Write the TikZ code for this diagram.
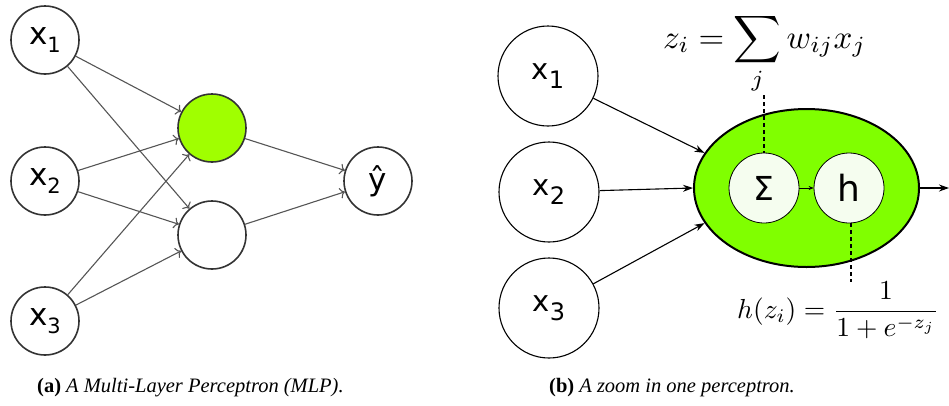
\documentclass[tikz,border=0pt]{standalone}
\usepackage{fontspec}
\usepackage{graphicx}
\usetikzlibrary{arrows.meta,shapes.geometric}
\newfontfamily\dv{DejaVu Sans}
\newfontfamily\capfont{Liberation Serif}
\definecolor{lgreen}{HTML}{A0FF00}
\definecolor{bgreen}{HTML}{80FF00}
\definecolor{pale}{HTML}{F5FDEF}
\definecolor{edgegray}{HTML}{555555}
\definecolor{ringgray}{HTML}{333333}
\newcommand\xlab[4]{{\fontsize{#1}{#1}\selectfont x\raisebox{-#3pt}{\fontsize{#2}{#2}\selectfont #4}}}
\begin{document}
\begin{tikzpicture}[x=1pt,y=-1pt,
  neuron/.style={circle,draw=ringgray,line width=1.6pt,fill=white,minimum size=68pt,inner sep=0pt,font=\dv},
  mlpedge/.style={draw=edgegray,line width=1.1pt,-{To[length=5pt,width=11pt]}},
  inputnode/.style={circle,draw=black,line width=1.1pt,fill=white,minimum size=100pt,inner sep=0pt,font=\dv},
  percep/.style={ellipse,draw=black,line width=2pt,fill=bgreen,minimum width=225pt,minimum height=158pt,inner sep=0pt},
  innernode/.style={circle,draw=black,line width=0.8pt,fill=pale,minimum size=70pt,inner sep=0pt,font=\dv},
  bedge/.style={draw=black,line width=1.1pt,-{Stealth[length=10pt,width=7pt]}},
  guide/.style={draw=black,line width=1.3pt,dash pattern=on 4pt off 3pt},
  eqnode/.style={inner sep=0pt,anchor=base west},
  captext/.style={inner sep=0pt,anchor=base west,font=\capfont\fontsize{20.5}{20.5}\selectfont}]
\useasboundingbox (0,0) rectangle (949,405);
% ---------- (a) ----------
\node[neuron] (a1) at (45,40) {\xlab{31}{21}{8}{1}};
\node[neuron] (a2) at (45,181) {\xlab{31}{21}{8}{2}};
\node[neuron] (a3) at (45,321) {\xlab{31}{21}{8}{3}};
\node[neuron,fill=lgreen] (hg) at (212,128) {};
\node[neuron] (hw) at (212,235) {};
\node[neuron] (yh) at (378,181) {\fontsize{31}{31}\selectfont ŷ};
\foreach \s in {a1,a2,a3}{
  \draw[mlpedge] (\s) -- (hg);
  \draw[mlpedge] (\s) -- (hw);
}
\draw[mlpedge] (hg) -- (yh);
\draw[mlpedge] (hw) -- (yh);
% ---------- (b) ----------
\node[inputnode] (b1) at (548,76) {\xlab{29}{24}{9}{1}};
\node[inputnode] (b2) at (549,192) {\xlab{29}{24}{9}{2}};
\node[inputnode] (b3) at (549,308) {\xlab{29}{24}{9}{3}};
\node[percep] (P) at (806.5,188) {};
\node[innernode] (S) at (764,188) {\fontsize{33}{33}\selectfont Σ};
\node[innernode] (H) at (849,188) {\fontsize{36}{36}\selectfont h};
\draw[bedge] (b1) -- (P.161);
\draw[bedge] (b2) -- (P.west);
\draw[bedge] (b3) -- (P.199);
\draw[draw=black,line width=0.6pt,-{Stealth[length=5pt,width=4pt]}] (S) -- (H);
\coordinate (out) at (949,188);
\draw[bedge] (P.east) -- (out);
\node[eqnode] (eqz) at (663,48) {\scalebox{3.3}{$\displaystyle z_i=\sum_j w_{ij}x_j$}};
\node[eqnode] (eqh) at (737,318) {\scalebox{2.75}{$\displaystyle h(z_i)=\frac{1}{1+e^{-z_j}}$}};
\coordinate (zt) at (764,95);
\coordinate (hb) at (851,282);
\draw[guide] (zt) -- (S.north);
\draw[guide] (H.south -| hb) -- (hb);
% ---------- captions ----------
\node[captext] (capa) at (37,392) {\textbf{(a)} \textit{A Multi-Layer Perceptron (MLP).}};
\node[captext] (capb) at (549,392) {\textbf{(b)} \textit{A zoom in one perceptron.}};
\end{tikzpicture}
\end{document}
